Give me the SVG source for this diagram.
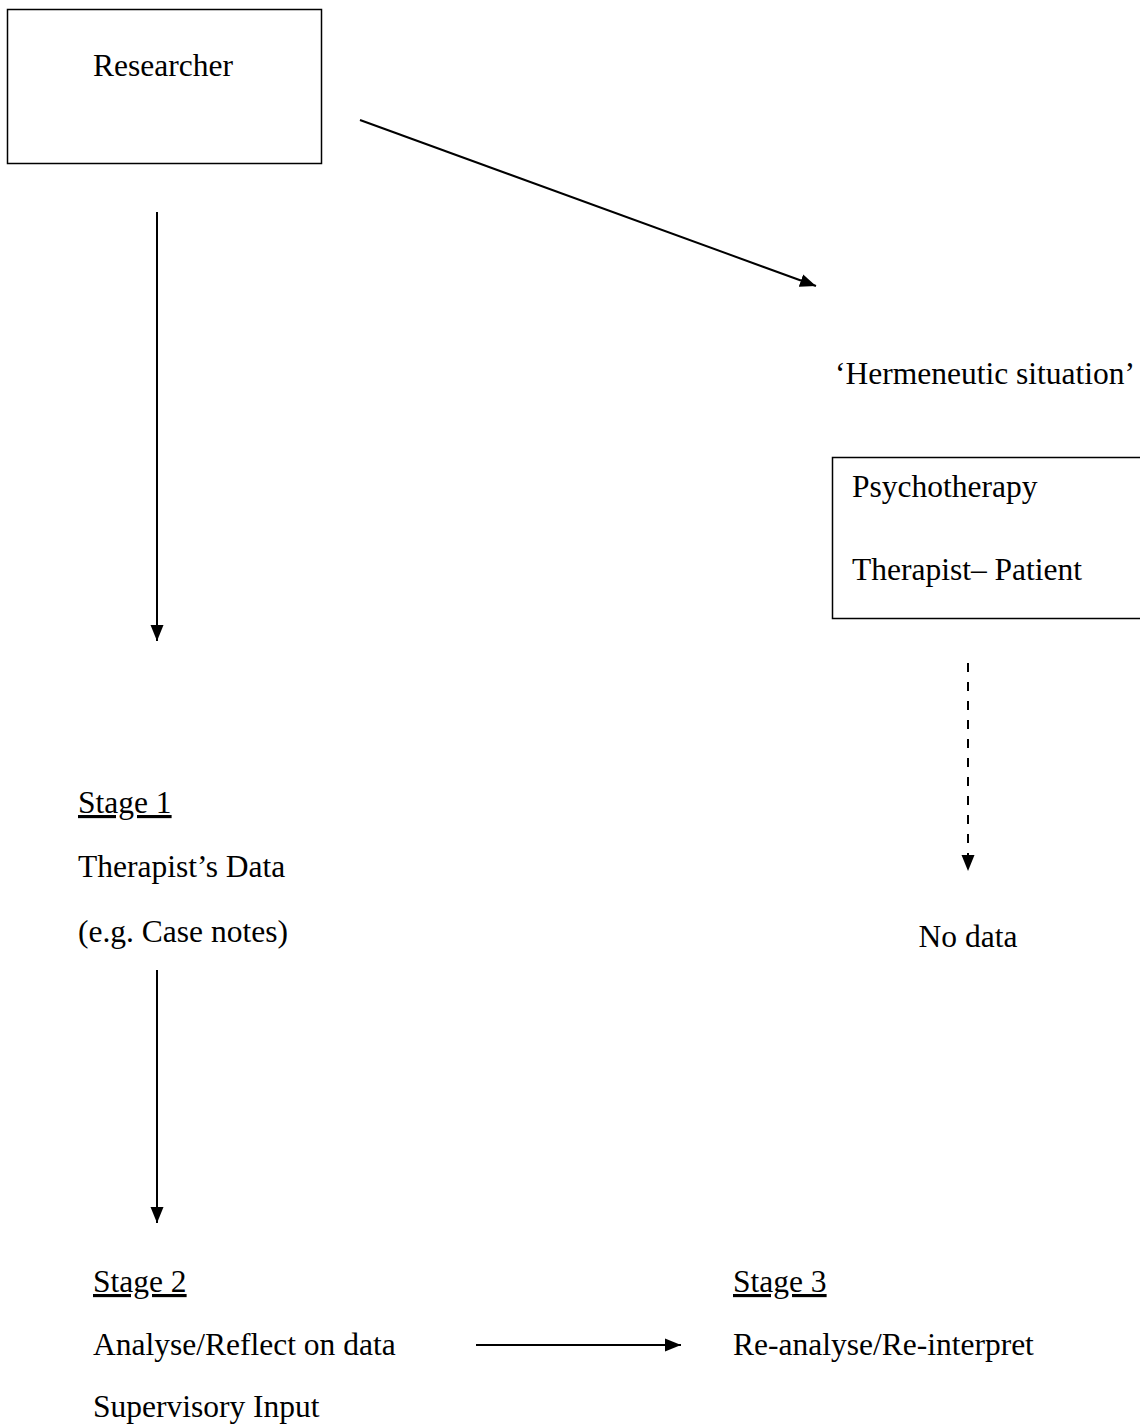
<svg xmlns="http://www.w3.org/2000/svg" width="1140" height="1425" viewBox="0 0 1140 1425">
<style>
text{font-family:"Liberation Serif","Times New Roman",serif;font-size:31.5px;fill:#000}
.u{text-decoration:underline}
.box{fill:none;stroke:#000;stroke-width:1.5}
.c{stroke:#000;stroke-width:2;fill:none}
.d{stroke-dasharray:9 10}
</style>
<defs>
<marker id="ah" markerUnits="userSpaceOnUse" markerWidth="16" markerHeight="14" viewBox="0 0 16 14" refX="16" refY="7" orient="auto">
<path d="M0,0.5 L16,7 L0,13.5 Z" fill="#000"/>
</marker>
</defs>
<rect width="1140" height="1425" fill="#fff"/>
<g id="researcher">
<rect class="box" x="7.5" y="9.5" width="314" height="154"/>
<text x="163" y="76" text-anchor="middle">Researcher</text>
</g>
<g id="hermeneutic">
<text x="835" y="384">‘Hermeneutic situation’</text>
</g>
<g id="psychotherapy">
<rect class="box" x="832.5" y="457.5" width="320" height="161"/>
<text x="852" y="497">Psychotherapy</text>
<text x="852" y="580">Therapist– Patient</text>
</g>
<g id="nodata">
<text x="968" y="947" text-anchor="middle">No data</text>
</g>
<g id="stage1">
<text x="78" y="813" class="u">Stage 1</text>
<text x="78" y="877">Therapist’s Data</text>
<text x="78" y="942">(e.g. Case notes)</text>
</g>
<g id="stage2">
<text x="93" y="1292" class="u">Stage 2</text>
<text x="93" y="1355">Analyse/Reflect on data</text>
<text x="93" y="1417">Supervisory Input</text>
</g>
<g id="stage3">
<text x="733" y="1292" class="u">Stage 3</text>
<text x="733" y="1355">Re-analyse/Re-interpret</text>
</g>
<g id="connectors">
<line class="c" x1="360" y1="120" x2="816" y2="286" marker-end="url(#ah)"/>
<line class="c" x1="157" y1="212" x2="157" y2="641" marker-end="url(#ah)"/>
<line class="c d" x1="968" y1="663" x2="968" y2="871" marker-end="url(#ah)"/>
<line class="c" x1="157" y1="970" x2="157" y2="1223" marker-end="url(#ah)"/>
<line class="c" x1="476" y1="1345" x2="681" y2="1345" marker-end="url(#ah)"/>
</g>
</svg>
